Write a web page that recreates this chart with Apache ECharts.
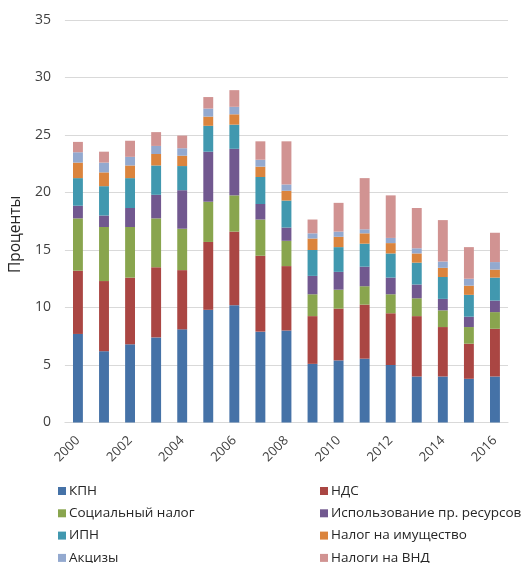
<!DOCTYPE html>
<html>
<head>
<meta charset="utf-8">
<script src="https://cdn.jsdelivr.net/npm/echarts@6/dist/echarts.min.js"></script>
<style>
  html, body { margin: 0; padding: 0; background: #fff; }
  main { width: 527px; height: 563px; }
</style>
</head>
<body>
<main></main>
<script>
const years = ['2000', '2001', '2002', '2003', '2004', '2005', '2006', '2007', '2008',
  '2009', '2010', '2011', '2012', '2013', '2014', '2015', '2016']

const kpn = [7.7, 6.2, 6.8, 7.4, 8.1, 9.8, 10.2, 7.9, 8.0, 5.1, 5.4, 5.55, 5.0, 4.0, 4.0, 3.8, 4.0]
const nds = [5.5, 6.1, 5.8, 6.1, 5.15, 5.9, 6.4, 6.6, 5.6, 4.15, 4.5, 4.7, 4.5, 5.25, 4.3, 3.05, 4.15]
const social = [4.55, 4.7, 4.4, 4.25, 3.6, 3.5, 3.15, 3.15, 2.2, 1.9, 1.65, 1.6, 1.65, 1.55, 1.45, 1.45, 1.45]
const resources = [1.1, 1.0, 1.65, 2.05, 3.35, 4.35, 4.05, 1.35, 1.15, 1.6, 1.55, 1.7, 1.45, 1.2, 1.0, 0.9, 1.0]
const ipn = [2.4, 2.55, 2.6, 2.55, 2.1, 2.25, 2.1, 2.35, 2.35, 2.25, 2.15, 2.0, 2.1, 1.9, 1.9, 1.9, 2.0]
const property = [1.35, 1.2, 1.1, 1.0, 0.9, 0.8, 0.9, 0.9, 0.85, 1.0, 0.9, 0.9, 0.9, 0.8, 0.8, 0.8, 0.7]
const excise = [0.9, 0.85, 0.75, 0.7, 0.65, 0.7, 0.65, 0.6, 0.55, 0.45, 0.45, 0.35, 0.45, 0.45, 0.55, 0.6, 0.65]
const vnd = [0.9, 0.95, 1.4, 1.2, 1.1, 1.0, 1.45, 1.6, 3.75, 1.2, 2.5, 4.45, 3.7, 3.5, 3.6, 2.75, 2.55]

const names = ['КПН', 'НДС', 'Социальный налог', 'Использование пр. ресурсов',
  'ИПН', 'Налог на имущество', 'Акцизы', 'Налоги на ВНД']
const colors = ['#4572a7', '#aa4643', '#89a54e', '#71588f', '#4198af', '#db843d', '#93a9cf', '#d19392']
const values = [kpn, nds, social, resources, ipn, property, excise, vnd]

const font = '"Open Sans", "Noto Sans", sans-serif'
const chart = echarts.init(document.querySelector('main'))

// two vertical legends side by side give the 2-column layout
const legendBase = {
  orient: 'vertical',
  top: 483,
  height: 120,
  padding: 0,
  itemWidth: 8,
  itemHeight: 8,
  itemGap: 6.3,
  icon: 'rect',
  textStyle: { fontFamily: font, fontSize: 13.5, color: '#262626', lineHeight: 16, padding: [0, 0, 0, -2] },
}

chart.setOption({
  animation: false,
  color: colors,
  grid: { left: 60, right: 19, top: 20, bottom: 140.5 },
  legend: [
    Object.assign({ left: 58, data: [names[0], names[2], names[4], names[6]] }, legendBase),
    Object.assign({ left: 320, data: [names[1], names[3], names[5], names[7]] }, legendBase),
  ],
  xAxis: {
    type: 'category',
    data: years,
    axisLine: { lineStyle: { color: '#d9d9d9' } },
    axisTick: { show: false },
    axisLabel: { interval: 1, rotate: 45, fontFamily: font, fontSize: 13, color: '#404040', margin: 16 },
  },
  yAxis: {
    type: 'value',
    min: 0,
    max: 35,
    interval: 5,
    name: 'Проценты',
    nameLocation: 'middle',
    nameGap: 35,
    // right padding pushes the rotated name down, as in the original
    nameTextStyle: { fontFamily: font, fontSize: 15.5, color: '#262626', padding: [0, 26, 0, 0] },
    axisLabel: { fontFamily: font, fontSize: 14, color: '#404040', margin: 14 },
    splitLine: { lineStyle: { color: '#d9d9d9' } },
  },
  series: names.map((name, i) => ({
    name,
    type: 'bar',
    stack: 'total',
    barWidth: '38%',
    data: values[i],
  })),
})
</script>
</body>
</html>
